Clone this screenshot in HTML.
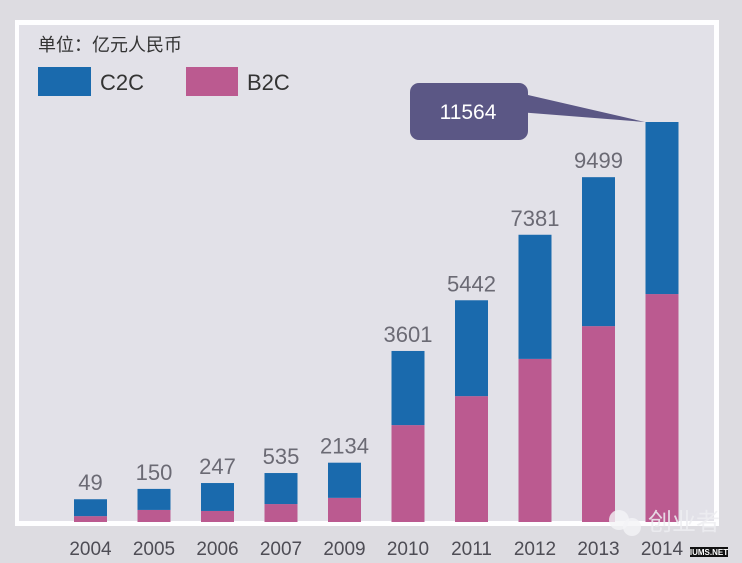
<!DOCTYPE html>
<html><head><meta charset="utf-8"><style>
html,body{margin:0;padding:0;background:#dddce1;width:742px;height:563px;overflow:hidden}
svg{display:block}
text{font-family:"Liberation Sans","Noto Sans CJK SC",sans-serif}
</style></head><body>
<svg id="chart" width="742" height="563" viewBox="0 0 742 563">
<rect x="0" y="0" width="742" height="563" fill="#dddce1"/>
<rect x="15" y="20" width="704" height="506" fill="#fefeff"/>
<rect x="19" y="25" width="695" height="496" fill="#e2e1e8"/>
<text x="38" y="51" font-size="18" fill="#333">单位：亿元人民币</text>
<g>
<rect x="38" y="67" width="53" height="29" fill="#1a6aad"/>
<text x="100" y="90" font-size="22" fill="#333">C2C</text>
<rect x="186" y="67" width="52" height="29" fill="#bb5a90"/>
<text x="247" y="90" font-size="22" fill="#333">B2C</text>
</g>
<g id="bars"></g>
<g>
<polygon points="515,92 645,122 518,112" fill="#5b5785"/>
<rect x="410" y="83" width="118" height="57" rx="9" fill="#5b5785"/>
<text id="calloutText" x="468" y="119" font-size="21" fill="#fff" text-anchor="middle"></text>
</g>
<g>
<circle cx="619" cy="520" r="10" fill="#f4f4f6" opacity="0.8"/>
<circle cx="632" cy="527" r="9" fill="#f4f4f6" opacity="0.8"/>
<text x="648" y="530" font-size="24" fill="#eeeef2" opacity="0.85">创业者</text>
<rect x="690" y="547" width="38" height="10" fill="#111"/>
<text x="709" y="555" font-size="8" fill="#fff" text-anchor="middle" font-weight="bold">IUMS.NET</text>
</g>
</svg>
<script>
const years = ["2004","2005","2006","2007","2009","2010","2011","2012","2013","2014"];
const totals = [49,150,247,535,2134,3601,5442,7381,9499,11564];
const c2c = [490,610,810,900,1020,2150,2780,3600,4320,4990];
const b2c = [170,350,320,520,700,2810,3650,4730,5680,6610];
const yMax = 11600;
const baseY = 522, plotTop = 122, x0 = 74, step = 63.5, bw = 33;
const ns = "http://www.w3.org/2000/svg";
function yScale(v){ return baseY - v/yMax*(baseY-plotTop); }
function xScale(i){ return x0 + i*step; }
const barGroup = document.getElementById("bars");
function mk(tag, attrs){ const e=document.createElementNS(ns,tag); for(const k in attrs) e.setAttribute(k,attrs[k]); barGroup.appendChild(e); return e; }
years.forEach((y,i)=>{
  const x = xScale(i);
  const yb = yScale(b2c[i]);
  const yt = yScale(b2c[i]+c2c[i]);
  const rb = mk("rect",{x:x,y:yb,width:bw,height:baseY-yb,fill:"#bb5a90"});
  
  
  const rc = mk("rect",{x:x,y:yt,width:bw,height:yb-yt,fill:"#1a6aad"});
  
  
  if (i < years.length-1) {
    const t = mk("text",{x:x+bw/2,y:yt-9,"font-size":22,fill:"#6b6a74","text-anchor":"middle"});
    t.textContent = totals[i];
    
    
  }
  const yl = mk("text",{x:x+bw/2,y:555,"font-size":19,fill:"#4e4d55","text-anchor":"middle"});
  yl.textContent = y;
  
  
});
document.getElementById("calloutText").textContent = totals[totals.length-1];
</script>
</body></html>
